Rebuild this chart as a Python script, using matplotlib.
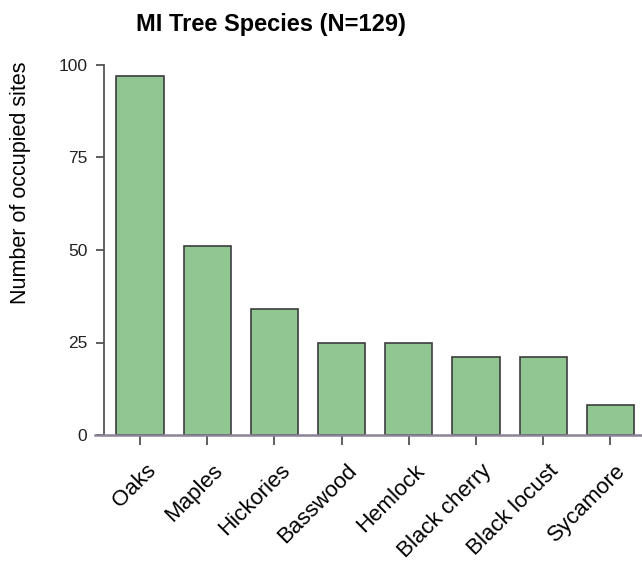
import matplotlib
matplotlib.use("Agg")
import matplotlib.pyplot as plt
import matplotlib.transforms as mtransforms

categories = ["Oaks", "Maples", "Hickories", "Basswood", "Hemlock",
              "Black cherry", "Black locust", "Sycamore"]
counts = [97, 51, 34, 25, 25, 21, 21, 8]
yticks = [0, 25, 50, 75, 100]

plt.rcParams['font.family'] = ['Liberation Sans', 'DejaVu Sans']

W, H = 642, 561
fig = plt.figure(figsize=(W / 100, H / 100), dpi=100)

# axes placement in pixels
x0_px, x1_px = 95, 642
y0_px = 435
px_per_unit = 3.7
ytop = 102
top_px = y0_px - ytop * px_per_unit
ax = fig.add_axes([x0_px / W, 1 - y0_px / H, (x1_px - x0_px) / W,
                   (y0_px - top_px) / H])

step = 67.2
first_center = 140
xlo = (x0_px - first_center) / step
xhi = (x1_px - first_center) / step
ax.set_xlim(xlo, xhi)
ax.set_ylim(0, ytop)

ax.bar(range(len(categories)), counts, width=0.7, color="#8fc692",
       edgecolor="#3d3d3d", linewidth=1.2, zorder=2)

for s in ["top", "right"]:
    ax.spines[s].set_visible(False)
ax.spines["left"].set_position(("data", (104 - first_center) / step))
ax.spines["left"].set_bounds(0, 100)
ax.spines["left"].set_color("#555555")
ax.spines["left"].set_linewidth(1.3)
ax.spines["bottom"].set_color("#8a8296")
ax.spines["bottom"].set_linewidth(1.8)

ax.set_yticks(yticks)
ax.set_yticklabels([str(v) for v in yticks], fontsize=12.5, color="#222222")
ax.tick_params(axis="y", length=6, width=1.2, color="#444444", pad=6)
ax.set_xticks(range(len(categories)))
ax.set_xticklabels(categories, rotation=45, ha="right", rotation_mode="anchor",
                   fontsize=16)
ax.tick_params(axis="x", length=7, width=1.2, color="#444444", pad=11)
offset = mtransforms.ScaledTranslation(5 / 100, 0, fig.dpi_scale_trans)
for lbl in ax.get_xticklabels():
    lbl.set_transform(lbl.get_transform() + offset)

fig.text(21 / W, 1 - 183 / H, "Number of occupied sites", rotation=90,
         ha="center", va="center", fontsize=15.5)
fig.text(271 / W, 1 - 24 / H, "MI Tree Species (N=129)", ha="center",
         va="center", fontsize=17, fontweight="bold")

fig.savefig("out.png", dpi=100, facecolor="white")
